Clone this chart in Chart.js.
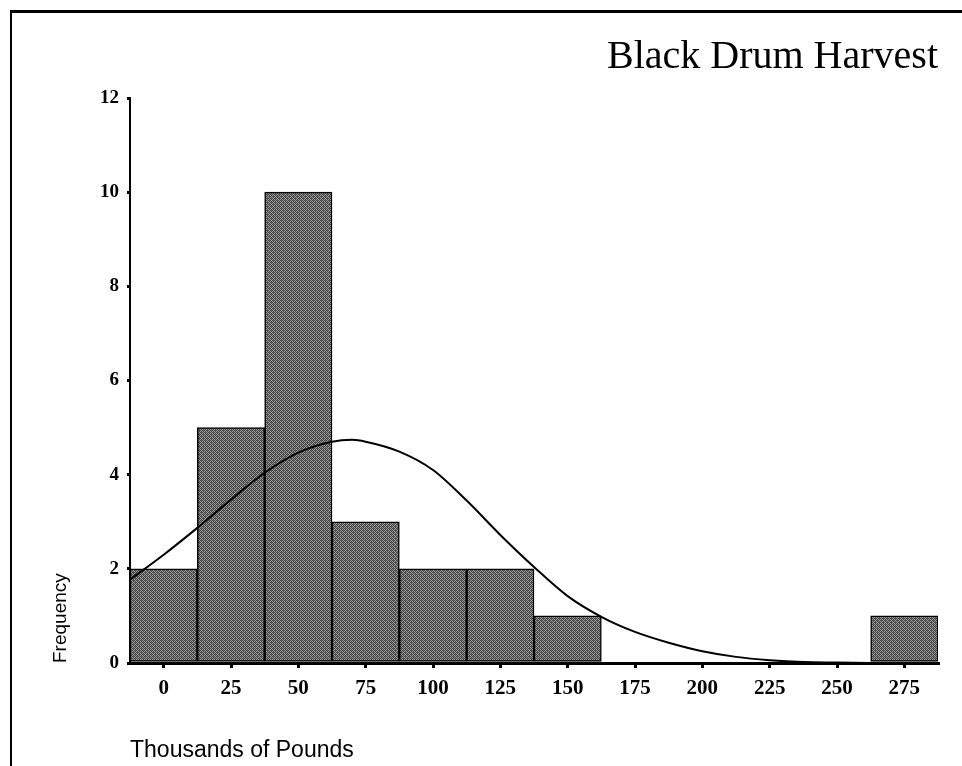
<!DOCTYPE html>
<html>
<head>
<meta charset="utf-8">
<script src="https://cdn.jsdelivr.net/npm/chart.js@4/dist/chart.umd.min.js"></script>
<style>
  html, body { margin: 0; padding: 0; background: #fff; }
  #wrap { position: relative; width: 962px; height: 766px; }
  #frame { position: absolute; left: 10px; top: 10px; width: 960px; height: 770px;
           border-top: 3px solid #000; border-left: 2px solid #000; box-sizing: border-box; }
  canvas { position: absolute; left: 0; top: 0; }
</style>
</head>
<body>
<div id="wrap">
  <canvas id="c" width="962" height="766"></canvas>
  <div id="frame"></div>
</div>
<script>
// Histogram bins (centre, thousands of pounds) and frequencies
const binCenters = [0, 25, 50, 75, 100, 125, 150, 175, 200, 225, 250, 275];
const frequencies = [2, 5, 10, 3, 2, 2, 1, 0, 0, 0, 0, 1];

// Fitted normal curve
const curveX = [-12.5, 0, 12.5, 25, 37.5, 50, 62.5, 70, 75, 87.5, 100, 112.5, 125, 137.5, 150, 162.5, 175, 187.5, 200, 212.5, 225, 237.5, 250, 262.5];
const curveY = [1.77, 2.3, 2.87, 3.47, 4.04, 4.47, 4.70, 4.74, 4.70, 4.49, 4.10, 3.45, 2.72, 2.04, 1.42, 0.98, 0.66, 0.43, 0.25, 0.13, 0.06, 0.02, 0.01, 0.0];

const yTicks = [0, 2, 4, 6, 8, 10, 12];

// stippled grey fill
function makePattern() {
  const p = document.createElement('canvas');
  p.width = 4; p.height = 4;
  const g = p.getContext('2d');
  g.fillStyle = '#9c9c9c'; g.fillRect(0, 0, 4, 4);
  g.fillStyle = '#454545';
  g.fillRect(0, 0, 1, 1); g.fillRect(2, 0, 1, 1);
  g.fillRect(1, 1, 1, 1); g.fillRect(3, 1, 1, 1);
  g.fillRect(0, 2, 1, 1); g.fillRect(2, 2, 1, 1);
  g.fillRect(1, 3, 1, 1); g.fillRect(3, 3, 1, 1);
  g.fillStyle = '#606060';
  g.fillRect(1, 0, 1, 1); g.fillRect(3, 2, 1, 1);
  return g.createPattern(p, 'repeat');
}
const ctx = document.getElementById('c').getContext('2d');
const pattern = makePattern();

new Chart(ctx, {
  data: {
    datasets: [
      {
        type: 'line',
        data: curveX.map((x, i) => ({ x: x, y: curveY[i] })),
        borderColor: '#000',
        borderWidth: 2,
        pointRadius: 0,
        fill: false,
        cubicInterpolationMode: 'monotone',
        order: 0
      },
      {
        type: 'bar',
        data: binCenters.map((x, i) => ({ x: x, y: frequencies[i] })),
        backgroundColor: pattern,
        borderColor: '#000',
        borderWidth: 1.5,
        borderSkipped: false,
        barPercentage: 1,
        categoryPercentage: 1,
        order: 1
      }
    ]
  },
  options: {
    responsive: false,
    animation: false,
    events: [],
    layout: { padding: { left: 45, top: 10, right: 24, bottom: 2 } },
    plugins: {
      legend: { display: false },
      tooltip: { enabled: false },
      title: {
        display: true,
        text: 'Black Drum Harvest',
        align: 'end',
        color: '#000',
        font: { family: '"Liberation Serif", "Times New Roman", serif', size: 40, weight: 'normal', lineHeight: 1.2 },
        padding: { top: 23, bottom: 17 }
      }
    },
    scales: {
      x: {
        type: 'linear',
        min: -12.5,
        max: 287.5,
        offset: false,
        afterBuildTicks: s => { s.ticks = binCenters.map(v => ({ value: v })); },
        afterFit: s => { s.height = 101; },
        border: { display: true, color: '#000', width: 3 },
        grid: { display: true, offset: false, drawOnChartArea: false, drawTicks: true, tickLength: 5, color: '#000', lineWidth: 3 },
        ticks: {
          color: '#000',
          padding: 8,
          autoSkip: false,
          maxRotation: 0,
          font: { family: '"Liberation Serif", "Times New Roman", serif', size: 21, weight: 'bold' },
          callback: v => String(v)
        },
        title: {
          display: true,
          text: 'Thousands of Pounds',
          align: 'start',
          color: '#000',
          font: { family: '"Liberation Sans", Arial, sans-serif', size: 23 },
          padding: { top: 0, bottom: 0 }
        }
      },
      y: {
        min: 0,
        max: 12,
        afterBuildTicks: s => { s.ticks = yTicks.map(v => ({ value: v })); },
        afterFit: s => { s.width = 85; },
        border: { display: true, color: '#000', width: 2 },
        grid: { display: true, drawOnChartArea: false, drawTicks: true, tickLength: 3, color: '#000', lineWidth: 3 },
        ticks: {
          color: '#000',
          padding: 8,
          font: { family: '"Liberation Serif", "Times New Roman", serif', size: 19, weight: 'bold' },
          callback: v => String(v)
        },
        title: {
          display: true,
          text: 'Frequency',
          align: 'start',
          color: '#000',
          font: { family: '"Liberation Sans", Arial, sans-serif', size: 19 },
          padding: { top: 4, bottom: 0 }
        }
      }
    }
  }
});
</script>
</body>
</html>
